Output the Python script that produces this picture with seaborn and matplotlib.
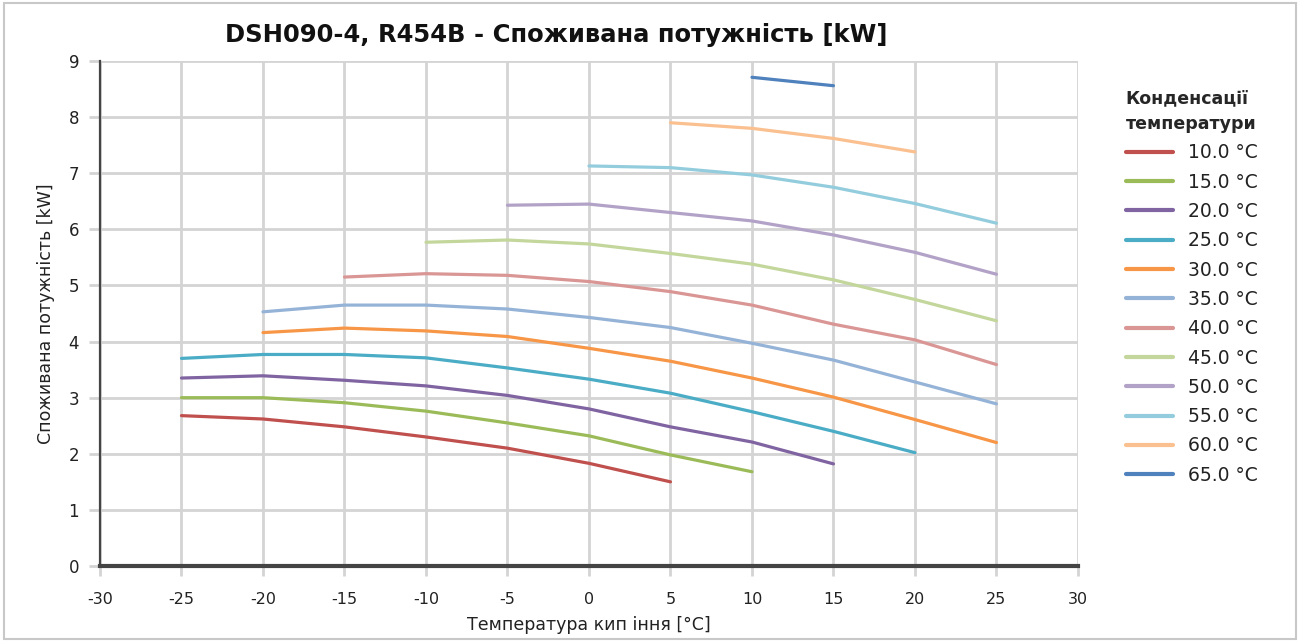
import matplotlib
matplotlib.use("Agg")
import matplotlib.pyplot as plt
import seaborn as sns
import pandas as pd
from matplotlib.patches import Rectangle
from matplotlib.lines import Line2D

# Evaporating temperatures (°C) shared by all curves
evap = [-25, -20, -15, -10, -5, 0, 5, 10, 15, 20, 25]

# Condensing temperatures and their power input curves (kW)
cond_temps = [10.0, 15.0, 20.0, 25.0, 30.0, 35.0, 40.0, 45.0, 50.0, 55.0, 60.0, 65.0]
p10 = [2.68, 2.62, 2.48, 2.30, 2.10, 1.83, 1.50]
p15 = [3.00, 3.00, 2.91, 2.76, 2.55, 2.32, 1.98, 1.68]
p20 = [3.35, 3.39, 3.31, 3.21, 3.04, 2.80, 2.48, 2.21, 1.82]
p25 = [3.70, 3.77, 3.77, 3.71, 3.53, 3.33, 3.08, 2.75, 2.40, 2.02]
p30 = [4.16, 4.24, 4.19, 4.09, 3.88, 3.65, 3.35, 3.01, 2.61, 2.20]
p35 = [4.53, 4.65, 4.65, 4.58, 4.43, 4.25, 3.97, 3.67, 3.28, 2.89]
p40 = [5.15, 5.21, 5.18, 5.07, 4.89, 4.65, 4.31, 4.03, 3.59]
p45 = [5.77, 5.81, 5.74, 5.57, 5.38, 5.10, 4.75, 4.37]
p50 = [6.43, 6.45, 6.30, 6.15, 5.90, 5.59, 5.20]
p55 = [7.13, 7.10, 6.97, 6.75, 6.46, 6.11]
p60 = [7.90, 7.80, 7.62, 7.38]
p65 = [8.71, 8.56]
# first evaporating temperature of each curve
starts = [-25, -25, -25, -25, -20, -20, -15, -10, -5, 0, 5, 10]
curves = [p10, p15, p20, p25, p30, p35, p40, p45, p50, p55, p60, p65]

colors = ["#C0504D", "#9BBB59", "#8064A2", "#4BACC6", "#F79646", "#95B3D7",
          "#D99694", "#C3D69B", "#B3A2C7", "#93CDDD", "#FAC090", "#4F81BD"]

x_ticks = list(range(-30, 31, 5))
y_ticks = list(range(0, 10))

title = "DSH090-4, R454B - Споживана потужність [kW]"
x_label = "Температура кип іння [°C]"
y_label = "Споживана потужність [kW]"
legend_title = "Конденсації\nтемператури"

rows = []
for tc, x0, vals in zip(cond_temps, starts, curves):
    i0 = evap.index(x0)
    for te, p in zip(evap[i0:i0 + len(vals)], vals):
        rows.append({"evap": te, "power": p, "cond": f"{tc:.1f} °C"})
df = pd.DataFrame(rows)
labels = [f"{t:.1f} °C" for t in cond_temps]

sns.set_theme(style="white")
plt.rcParams["font.family"] = ["DejaVu Sans"]

fig = plt.figure(figsize=(13, 6.41), dpi=100)
ax = fig.add_axes([0.0769, 0.117, 0.7523, 0.7878])

sns.lineplot(data=df, x="evap", y="power", hue="cond", hue_order=labels,
             palette=colors, linewidth=2.3, ax=ax, legend=False, sort=True)

ax.set_xlim(-30, 30)
ax.set_ylim(0, 9)
ax.set_xticks(x_ticks)
ax.set_yticks(y_ticks)
ax.set_xticklabels([str(v) for v in x_ticks], fontsize=11.5, color="#222222")
ax.set_yticklabels([str(v) for v in y_ticks], fontsize=12, color="#222222")
ax.grid(True, color="#D4D4D4", linewidth=2)
ax.set_axisbelow(True)
ax.tick_params(axis="x", which="major", length=7, width=2, color="#D4D4D4",
               bottom=True, pad=12)
ax.tick_params(axis="y", which="major", length=8, width=2, color="#D4D4D4",
               left=True, pad=7)

for s in ["top", "right"]:
    ax.spines[s].set_visible(False)
ax.spines["left"].set_color("#444444")
ax.spines["left"].set_linewidth(1.6)
ax.spines["bottom"].set_color("#444444")
ax.spines["bottom"].set_linewidth(3)

ax.set_xlabel(x_label, fontsize=12.5, color="#222222", labelpad=6)
ax.set_ylabel(y_label, fontsize=12.5, color="#222222", labelpad=10)
fig.text(0.428, 0.945, title, fontsize=17.5, fontweight="bold",
         ha="center", va="center", color="#111111")

handles = [Line2D([0], [0], color=c, linewidth=3) for c in colors]
leg = fig.legend(handles, labels, loc="upper left", bbox_to_anchor=(0.853, 0.887),
                 frameon=False, fontsize=13.5, handlelength=2.5, handletextpad=0.8,
                 labelspacing=0.55, title=legend_title,
                 title_fontproperties={"weight": "bold", "size": 12.5})
leg._legend_box.align = "left"
leg.get_title().set_linespacing(1.55)
for t in leg.get_texts():
    t.set_color("#222222")

# thin frame around the whole figure
fig.patches.append(Rectangle((0.003, 0.003), 0.994, 0.992, transform=fig.transFigure,
                             fill=False, edgecolor="#C8C8C8", linewidth=1.5))

fig.savefig("out.png", dpi=100)
